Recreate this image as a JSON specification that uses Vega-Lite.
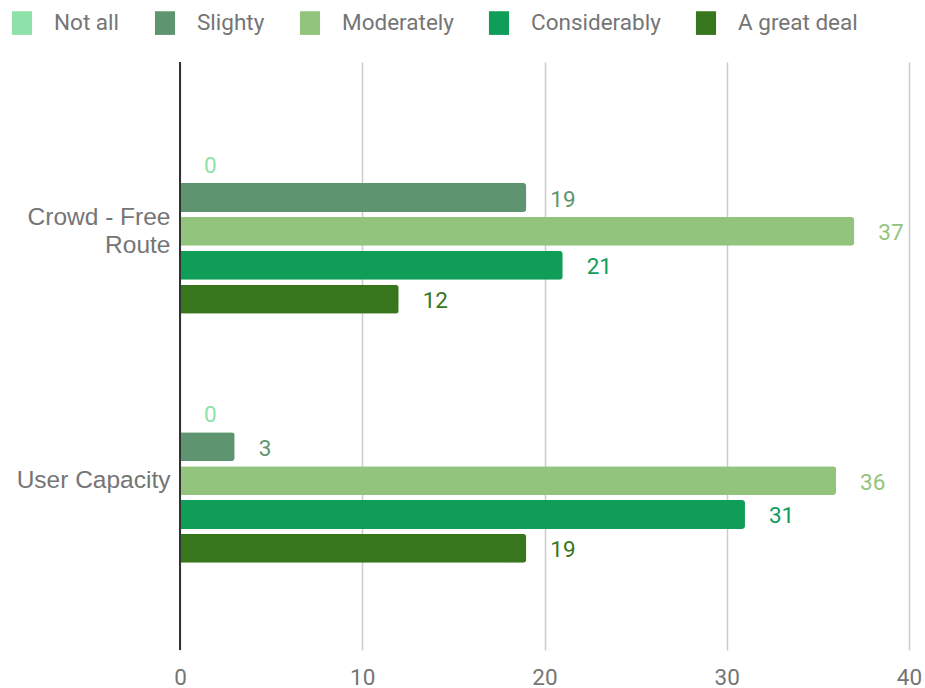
{
  "$schema": "https://vega.github.io/schema/vega-lite/v6.json",
  "width": 729,
  "height": 588,
  "autosize": {"type": "none"},
  "padding": {"left": 180, "top": 62, "right": 16, "bottom": 38},
  "background": "white",
  "config": {"view": {"stroke": null}, "font": "Roboto"},
  "data": {
    "values": [
      {"item": "Crowd - Free Route", "level": "Not all", "value": 0},
      {"item": "Crowd - Free Route", "level": "Slighty", "value": 19},
      {"item": "Crowd - Free Route", "level": "Moderately", "value": 37},
      {"item": "Crowd - Free Route", "level": "Considerably", "value": 21},
      {"item": "Crowd - Free Route", "level": "A great deal", "value": 12},
      {"item": "User Capacity", "level": "Not all", "value": 0},
      {"item": "User Capacity", "level": "Slighty", "value": 3},
      {"item": "User Capacity", "level": "Moderately", "value": 36},
      {"item": "User Capacity", "level": "Considerably", "value": 31},
      {"item": "User Capacity", "level": "A great deal", "value": 19}
    ]
  },
  "encoding": {
    "y": {
      "field": "item", "type": "nominal", "title": null,
      "sort": ["Crowd - Free Route", "User Capacity"],
      "scale": {"paddingInner": 0.34, "paddingOuter": 0.35},
      "axis": {
        "domain": false, "ticks": false, "labelFontSize": 24.5, "labelColor": "#757575",
        "labelFont": "Liberation Sans", "labelPadding": 10, "labelLineHeight": 28,
        "labelExpr": "datum.label == 'Crowd - Free Route' ? ['Crowd - Free', 'Route'] : datum.label",
        "labelOffset": {"condition": {"test": "datum.value == 'Crowd - Free Route'", "value": -13}, "value": 0}
      }
    },
    "yOffset": {
      "field": "level", "type": "nominal",
      "sort": ["Not all", "Slighty", "Moderately", "Considerably", "A great deal"],
      "scale": {"paddingInner": 0.15, "paddingOuter": 0}
    },
    "x": {
      "field": "value", "type": "quantitative", "title": null,
      "scale": {"domain": [0, 40], "nice": false},
      "axis": {
        "values": [0, 10, 20, 30, 40], "domain": false, "ticks": false,
        "gridColor": "#cccccc", "gridWidth": 1.5, "labelFontSize": 22.5, "labelColor": "#757575",
        "labelPadding": 16, "labelFlush": false
      }
    },
    "color": {
      "field": "level", "type": "nominal",
      "sort": ["Not all", "Slighty", "Moderately", "Considerably", "A great deal"],
      "scale": {
        "domain": ["Not all", "Slighty", "Moderately", "Considerably", "A great deal"],
        "range": ["#8ee2a9", "#5f9470", "#93c47d", "#0f9d58", "#38761d"]
      },
      "legend": {
        "title": null, "orient": "none", "direction": "horizontal",
        "legendX": -170, "legendY": -51,
        "symbolType": "M-0.85,-1H0.85V1H-0.85Z", "symbolSize": 560, "symbolStrokeWidth": 0,
        "labelFontSize": 22.5, "labelColor": "#757575", "labelOffset": 20,
        "columnPadding": 33, "columns": 5
      }
    }
  },
  "layer": [
    {"mark": {"type": "bar", "cornerRadiusEnd": 3}},
    {
      "mark": {"type": "text", "align": "left", "baseline": "middle", "dx": 24, "dy": 2, "fontSize": 22.5, "stroke": "white", "strokeWidth": 4, "strokeJoin": "round"},
      "encoding": {"text": {"field": "value"}, "color": {"value": "white"}}
    },
    {
      "mark": {"type": "text", "align": "left", "baseline": "middle", "dx": 24, "dy": 2, "fontSize": 22.5},
      "encoding": {"text": {"field": "value"}}
    },
    {
      "mark": {"type": "rule", "color": "#333333", "strokeWidth": 1.5},
      "encoding": {"x": {"datum": 0}, "y": null, "yOffset": null, "color": null}
    }
  ]
}
